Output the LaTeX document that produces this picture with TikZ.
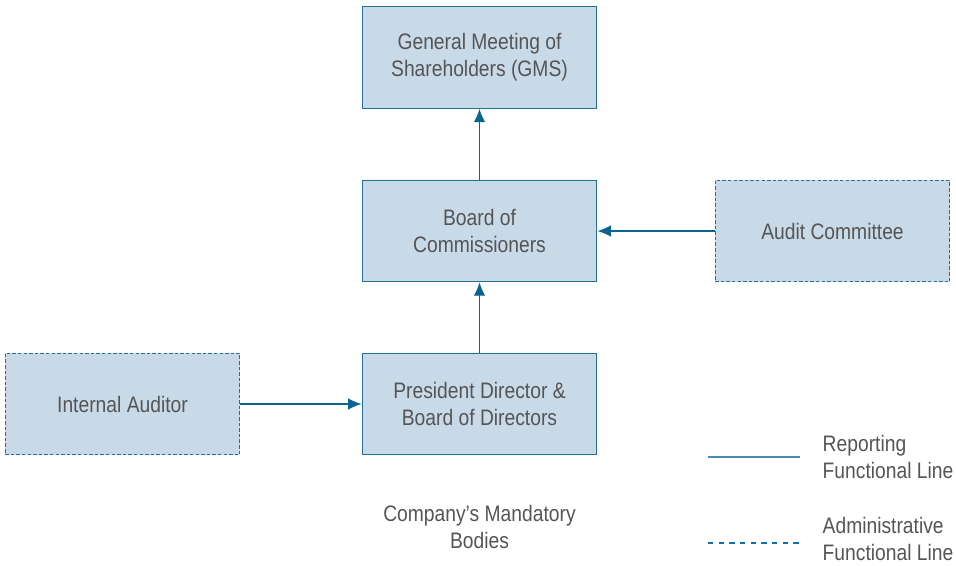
\documentclass[tikz,border=0pt]{standalone}
\usepackage{fontspec}
\setmainfont{Liberation Sans}[FakeStretch=0.86]
\usetikzlibrary{arrows.meta,positioning}
\definecolor{boxfill}{RGB}{200,217,232}
\definecolor{boxline}{RGB}{38,112,152}
\definecolor{arrowblue}{RGB}{10,100,145}
\definecolor{legendsolid}{RGB}{70,140,172}
\definecolor{legenddash}{RGB}{20,115,175}
\definecolor{inkgray}{RGB}{85,85,85}

\begin{document}
\begin{tikzpicture}[x=0.75pt,y=-0.75pt,font=\fontsize{16.8}{20.5}\selectfont,
  text=inkgray,>={Latex[length=10pt,width=8.5pt]}]
\tikzset{body/.style={draw=boxline,fill=boxfill,line width=0.9pt,align=center,
  minimum width=176pt,minimum height=76pt,inner sep=0pt},
  extbody/.style={body,dashed,dash pattern=on 2.6pt off 1.6pt},
  feed/.style={->,draw=arrowblue,line width=0.9pt}}
\useasboundingbox (0,0) rectangle (956,565);
\node[body] (gms) at (479.5,57.5) {General Meeting of\\Shareholders (GMS)};
\node[body] (boc) at (479.5,231) {Board of\\Commissioners};
\node[body] (pd) at (479.5,404) {President Director \&\\Board of Directors};
\node[extbody] (ac) at (832.5,231) {Audit Committee};
\node[extbody] (ia) at (122.5,404) {Internal Auditor};
\draw[feed] (boc) -- (gms);
\draw[feed] (pd) -- (boc);
\draw[feed] (ac) -- (boc);
\draw[feed] (ia) -- (pd);
\node[align=center] (mand) at (479.5,527) {Company’s Mandatory\\Bodies};
% legend
\coordinate (rep1) at (708,457);
\coordinate (rep2) at (800,457);
\coordinate (adm1) at (708,543);
\coordinate (adm2) at (800,543);
\draw[legendsolid,line width=0.9pt] (rep1) -- (rep2);
\draw[legenddash,line width=0.9pt,dash pattern=on 4pt off 4pt] (adm1) -- (adm2);
\node[align=left,anchor=west] (rep) at (818,457) {Reporting\\Functional Line};
\node[align=left,anchor=west] (adm) at (818,539) {Administrative\\Functional Line};
\end{tikzpicture}
\end{document}
